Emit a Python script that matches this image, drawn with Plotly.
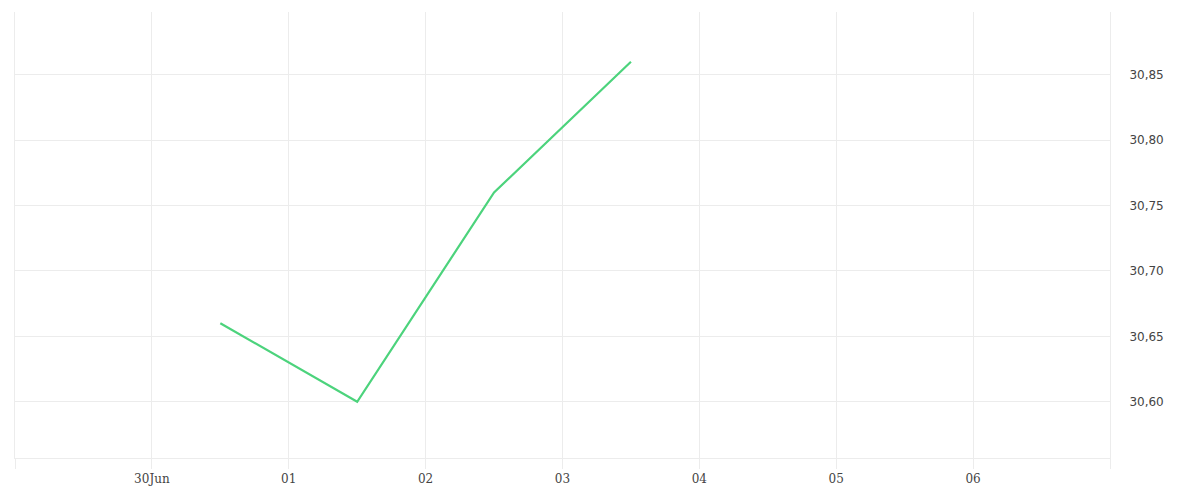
import plotly.graph_objects as go

dates = ["2024-06-30 12:00", "2024-07-01 12:00", "2024-07-02 12:00", "2024-07-03 12:00"]
values = [30.66, 30.60, 30.76, 30.86]
tick_dates = ["2024-06-30", "2024-07-01", "2024-07-02", "2024-07-03", "2024-07-04", "2024-07-05", "2024-07-06"]
tick_labels = ["30Jun", "01", "02", "03", "04", "05", "06"]
y_ticks = [30.60, 30.65, 30.70, 30.75, 30.80, 30.85]

fig = go.Figure()
fig.add_trace(go.Scatter(x=dates, y=values, mode="lines",
                         line=dict(color="#4cd37c", width=2.2), hoverinfo="x+y"))

grid = "#ececec"
fig.update_layout(
    width=1184, height=484,
    margin=dict(l=7, r=82, t=4, b=34),
    paper_bgcolor="white", plot_bgcolor="white",
    separators=",.",
    showlegend=False,
    xaxis=dict(
        type="date",
        range=["2024-06-29", "2024-07-07"],
        tickmode="array", tickvals=tick_dates, ticktext=tick_labels,
        showgrid=True, gridcolor=grid, gridwidth=1,
        ticks="outside", ticklen=10, tickcolor=grid, tickwidth=1,
        minor=dict(dtick=86400000, tick0="2024-06-29", showgrid=True, gridcolor=grid,
                   ticks="outside", ticklen=10, tickcolor=grid),
        showline=True, linecolor=grid, linewidth=1,
        zeroline=False,
        tickfont=dict(family="DejaVu Serif", size=12, color="#444"),
    ),
    yaxis=dict(
        side="right",
        range=[30.557, 30.898],
        tickmode="array", tickvals=y_ticks, tickformat=".2f",
        showgrid=True, gridcolor=grid, gridwidth=1,
        zeroline=False, showline=True, mirror=True, linecolor=grid, linewidth=1,
        ticks="", ticklabelstandoff=16,
        tickfont=dict(family="DejaVu Sans", size=12, color="#444"),
    ),
)

fig.write_html("out.html")
